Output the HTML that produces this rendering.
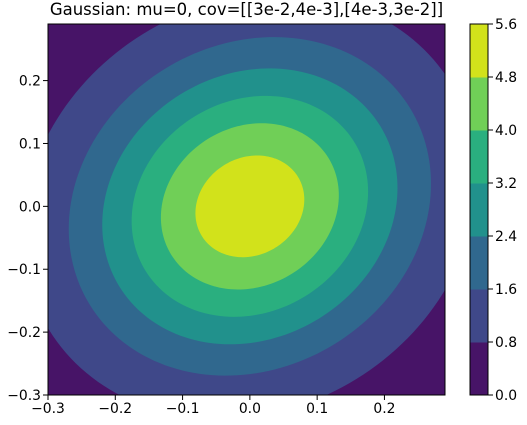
<!DOCTYPE html>
<html><head><meta charset="utf-8"><style>
body{margin:0;background:#fff;}
svg text{font-family:"DejaVu Sans","Liberation Sans",sans-serif;fill:#000;}
</style></head><body>
<svg id="chart" width="527" height="420" viewBox="0 0 527 420" xmlns="http://www.w3.org/2000/svg">
<defs><clipPath id="clip"><rect x="48" y="24" width="397" height="371"/></clipPath></defs>
<text x="246.5" y="15" font-size="16.5" text-anchor="middle">Gaussian: mu=0, cov=[[3e-2,4e-3],[4e-3,3e-2]]</text>
<g id="plot" clip-path="url(#clip)"></g>
<rect x="48" y="24" width="397" height="371" fill="none" stroke="#000" stroke-width="1"/>
<g id="axes"></g>
<g id="cbar"></g>
</svg>
<script>
const levels=[0,0.8,1.6,2.4,3.2,4.0,4.8,5.6];
const colors=["#471467","#3f4889","#30688e","#21918c","#2aaf7f","#70cf57","#d2e21b"];
const mu=[0,0];
const cov=[[0.03,0.004],[0.004,0.03]];
const xTicks=[-0.3,-0.2,-0.1,0.0,0.1,0.2];
const yTicks=[-0.3,-0.2,-0.1,0.0,0.1,0.2];
const NS="http://www.w3.org/2000/svg";
const X0=48,XW=397,Y0=24,YH=371,xmin=-0.3,xmax=0.29,ymin=-0.3,ymax=0.29;
function x(v){return X0+(v-xmin)/(xmax-xmin)*XW;}
function y(v){return Y0+YH-(v-ymin)/(ymax-ymin)*YH;}
function fmt(v){const s=Math.abs(v).toFixed(1);return (v<-1e-9?'\u2212':'')+s;}
function mk(tag,attrs,parent){const e=document.createElementNS(NS,tag);for(const k in attrs)e.setAttribute(k,attrs[k]);parent.appendChild(e);return e;}
const plot=document.getElementById('plot');
const bg=mk('rect',{x:X0,y:Y0,width:XW,height:YH,fill:colors[0]},plot);


const det=cov[0][0]*cov[1][1]-cov[0][1]*cov[1][0];
const peak=1/(2*Math.PI*Math.sqrt(det));
const l11=Math.sqrt(cov[0][0]),l21=cov[1][0]/l11,l22=Math.sqrt(cov[1][1]-l21*l21);
for(let i=1;i<colors.length;i++){
  const c=levels[i]; if(c>=peak) continue;
  const r=Math.sqrt(-2*Math.log(c/peak));
  let d='';
  for(let k=0;k<=180;k++){const t=k/180*2*Math.PI;const a=r*Math.cos(t),b=r*Math.sin(t);
    const px=mu[0]+l11*a, py=mu[1]+l21*a+l22*b;
    d+=(k?'L':'M')+x(px).toFixed(2)+','+y(py).toFixed(2);}
  const p=mk('path',{d:d+'Z',fill:colors[i]},plot);
  
  
}
const axes=document.getElementById('axes');
xTicks.forEach(v=>{const px=x(v);mk('line',{x1:px,x2:px,y1:395,y2:400,stroke:'#000'},axes);
  const t=mk('text',{x:px,y:413,'font-size':'13.9','text-anchor':'middle'},axes);t.textContent=fmt(v);
  
  });
yTicks.forEach(v=>{const py=y(v);mk('line',{x1:43,x2:48,y1:py,y2:py,stroke:'#000'},axes);
  const t=mk('text',{x:41,y:py+5,'font-size':'13.9','text-anchor':'end'},axes);t.textContent=fmt(v);
  
  });
const cb=document.getElementById('cbar');
const CX=470,CW=18,CT=24,CB=395;
function cy(v){return CB-(v-levels[0])/(levels[levels.length-1]-levels[0])*(CB-CT);}
for(let i=0;i<colors.length;i++){
  const r=mk('rect',{x:CX,y:cy(levels[i+1]),width:CW,height:cy(levels[i])-cy(levels[i+1])+0.5,fill:colors[i]},cb);
  
  
}
mk('rect',{x:CX,y:CT,width:CW,height:CB-CT,fill:'none',stroke:'#000'},cb);
levels.forEach(v=>{const py=cy(v);mk('line',{x1:CX+CW,x2:CX+CW+5,y1:py,y2:py,stroke:'#000'},cb);
  const t=mk('text',{x:CX+CW+7,y:py+5,'font-size':'13.9'},cb);t.textContent=fmt(v);
  
  });
</script>
</body></html>
